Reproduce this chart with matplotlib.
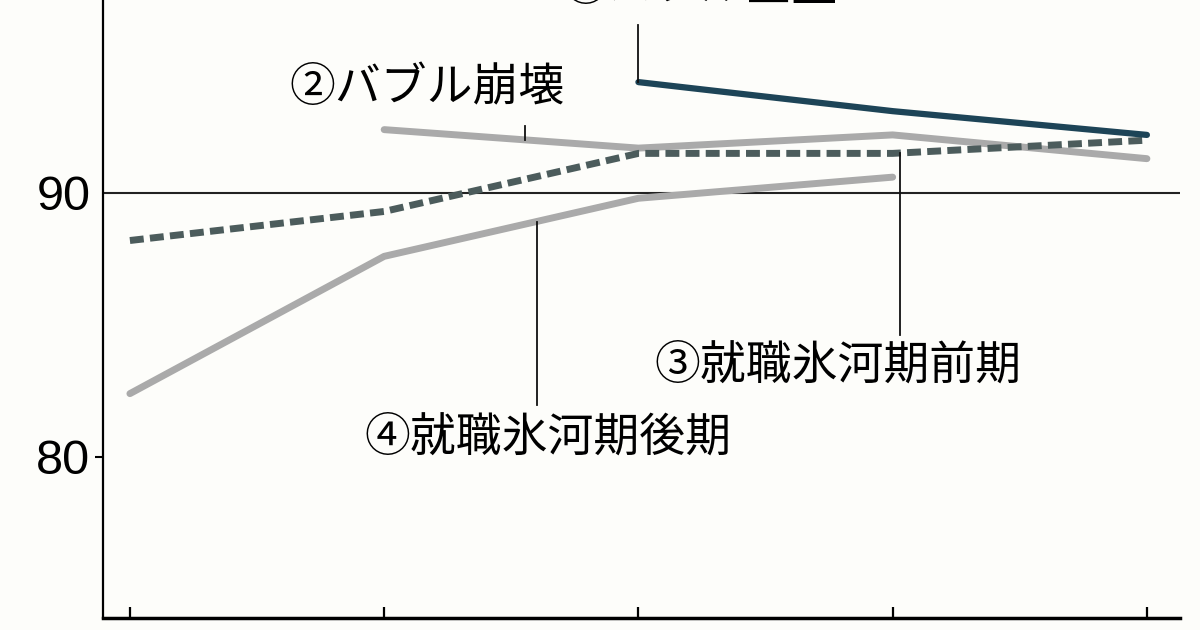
import matplotlib.pyplot as plt
import numpy as np

plt.rcParams['font.family'] = ['Noto Sans CJK JP', 'DejaVu Sans']

# data (cohort index 0..4)
points = [0, 1, 2, 3, 4]
bubble_peak = [np.nan, np.nan, 94.2, 93.1, 92.2]
bubble_burst = [np.nan, 92.4, 91.7, 92.2, 91.3]
ice_early = [88.2, 89.3, 91.5, 91.5, 92.0]
ice_late = [82.4, 87.6, 89.8, 90.6, np.nan]

labels = ['①バブル全盛', '②バブル崩壊', '③就職氷河期前期', '④就職氷河期後期']
ytick_vals = [80, 90]

bg = '#fdfdfa'
fig = plt.figure(figsize=(12, 6.3), dpi=100, facecolor=bg)
ax = fig.add_axes([0.0858, 0.019, 0.8975, 0.981])
ax.set_facecolor(bg)
ax.set_xlim(-0.106, 4.13)
ax.set_ylim(73.9, 97.31)

ax.axhline(90, color='#222222', lw=1.5, zorder=1)

ax.plot(points, ice_late, color='#aaaaaa', lw=5, solid_capstyle='round', zorder=2)
ax.plot(points, bubble_burst, color='#aaaaaa', lw=5, solid_capstyle='round', zorder=2)
ax.plot(points, ice_early, color='#4c5c5c', lw=5, dashes=(2.0, 0.9), zorder=3)
ax.plot(points, bubble_peak, color='#1d4457', lw=4.5, solid_capstyle='round', zorder=4)

# leader lines
lc = '#111111'
ax.plot([2, 2], [96.36, bubble_peak[2]], color=lc, lw=1.3, clip_on=False, zorder=5)
ax.plot([1.553, 1.553], [92.55, 92.02], color=lc, lw=1.3, zorder=5)
ax.plot([3.03, 3.03], [91.5, 84.62], color=lc, lw=1.3, zorder=5)
ax.plot([1.60, 1.60], [88.9, 81.97], color=lc, lw=1.3, zorder=5)

fs = 33
# label 1 sits mostly above the top edge, as in the source image
ax.text(1.70, 97.8, labels[0], fontsize=fs, va='center', ha='left', clip_on=False)
ax.text(0.629, 93.98, labels[1], fontsize=fs, va='center', ha='left')
ax.text(2.065, 83.48, labels[2], fontsize=fs, va='center', ha='left')
ax.text(0.924, 80.76, labels[3], fontsize=fs, va='center', ha='left')

for s in ['top', 'right']:
    ax.spines[s].set_visible(False)
ax.spines['left'].set_linewidth(1.6)
ax.spines['bottom'].set_linewidth(2.5)

ax.set_xticks(points)
ax.set_xticklabels([])
ax.tick_params(axis='x', direction='in', length=8, width=1.6)
ax.set_yticks(ytick_vals)
ax.set_yticklabels([str(v) for v in ytick_vals],
                   family=['Liberation Sans Narrow', 'Liberation Sans', 'DejaVu Sans'],
                   fontsize=35)
ax.tick_params(axis='y', direction='out', length=6, width=1.5, pad=3)
ax.yaxis.get_major_ticks()[1].tick1line.set_visible(False)

fig.savefig('out.png', dpi=100, facecolor=bg)
